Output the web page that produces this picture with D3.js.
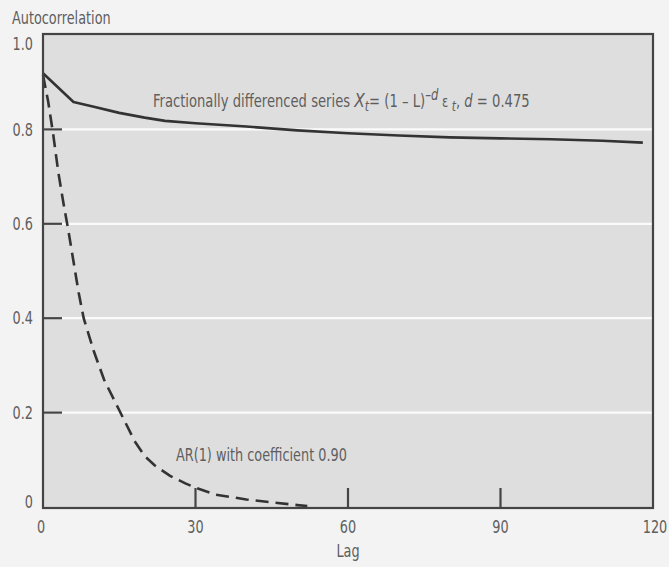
<!DOCTYPE html>
<html lang="en">
<head>
  <meta charset="UTF-8">
  <title>Autocorrelation</title>
  <script src="https://d3js.org/d3.v7.min.js"></script>
  <style>
    body { margin: 0; background: #f3f3f3; }
    text { font-family: "DejaVu Sans Condensed", "Liberation Sans Narrow", sans-serif; fill: #5e5e5e; }
  </style>
</head>
<body>
  <div id="viz"></div>

  <script>
    // Data
    const fracLag = [0, 6, 10, 15, 20, 24, 30, 40, 50, 60, 70, 80, 90, 100, 110, 118];
    const fracAcf = [0.919, 0.858, 0.848, 0.835, 0.825, 0.818, 0.813, 0.806, 0.798, 0.792, 0.787, 0.783, 0.781, 0.779, 0.776, 0.772];

    const arLag = [0, 1, 2, 3, 4, 5, 6, 7, 8, 10, 12, 15, 18, 20, 22, 25, 28, 30, 34, 40, 45, 50, 52];
    const arAcf = [0.915, 0.86, 0.79, 0.71, 0.645, 0.585, 0.52, 0.455, 0.40, 0.33, 0.27, 0.205, 0.14, 0.108, 0.088, 0.066, 0.05, 0.041, 0.026, 0.016, 0.01, 0.004, 0.002];

    const xTicks = [0, 30, 60, 90, 120];
    const yTicks = [0, 0.2, 0.4, 0.6, 0.8, 1.0];

    const W = 669, H = 567;
    const FS = 17, SX = 0.84;   // condensed look: squeeze text horizontally
    const x = d3.scaleLinear().domain([0, 120]).range([43, 653]);
    const y = d3.scaleLinear().domain([0, 1]).range([507, 35]);

    const svg = d3.select('#viz').append('svg')
      .attr('width', W).attr('height', H);

    const label = (sel, px, py, sx = SX) => sel.append('text')
      .attr('transform', `translate(${px},${py}) scale(${sx},1)`)
      .attr('font-size', FS);

    // plot background
    svg.append('rect')
      .attr('x', x(0)).attr('y', y(1))
      .attr('width', x(120) - x(0)).attr('height', y(0) - y(1))
      .attr('fill', '#dedede');

    // white gridlines
    svg.append('g').selectAll('line')
      .data(yTicks.filter(d => d > 0 && d < 1))
      .join('line')
        .attr('x1', x(0)).attr('x2', x(120))
        .attr('y1', d => y(d)).attr('y2', d => y(d))
        .attr('stroke', '#fbfbfb').attr('stroke-width', 2.2);

    // inner tick marks
    svg.append('g').selectAll('line')
      .data(yTicks.filter(d => d > 0 && d < 1))
      .join('line')
        .attr('x1', x(0)).attr('x2', x(0) + 19)
        .attr('y1', d => y(d)).attr('y2', d => y(d))
        .attr('stroke', '#444').attr('stroke-width', 2.2);
    svg.append('g').selectAll('line')
      .data(xTicks.filter(d => d > 0 && d < 120))
      .join('line')
        .attr('x1', d => x(d)).attr('x2', d => x(d))
        .attr('y1', y(0)).attr('y2', y(0) - 19)
        .attr('stroke', '#444').attr('stroke-width', 2.2);

    // lines
    const line = d3.line().x(d => x(d[0])).y(d => y(d[1]));
    svg.append('path')
      .datum(fracLag.map((l, i) => [l, fracAcf[i]]))
      .attr('d', line)
      .attr('fill', 'none').attr('stroke', '#333').attr('stroke-width', 2.6)
      .attr('stroke-linejoin', 'round');
    svg.append('path')
      .datum(arLag.map((l, i) => [l, arAcf[i]]))
      .attr('d', line)
      .attr('fill', 'none').attr('stroke', '#333').attr('stroke-width', 2.6)
      .attr('stroke-dasharray', '13,7');

    // frame
    svg.append('rect')
      .attr('x', x(0)).attr('y', y(1) - 1)
      .attr('width', x(120) - x(0)).attr('height', y(0) - y(1) + 2)
      .attr('fill', 'none').attr('stroke', '#444').attr('stroke-width', 2.2);

    // y tick labels
    yTicks.forEach(d => {
      label(svg, 33, y(d) + (d === 1 ? 9 : d === 0 ? -5 : 0))
        .attr('dy', '0.36em')
        .attr('text-anchor', 'end')
        .text(d === 0 ? '0' : d3.format('.1f')(d));
    });

    // x tick labels
    xTicks.forEach(d => {
      label(svg, x(d) + (d === 0 ? -2 : d === 120 ? 2 : 0), 527)
        .attr('dy', '0.36em')
        .attr('text-anchor', 'middle')
        .text(d);
    });

    // axis titles
    label(svg, 12, 24).text('Autocorrelation');
    label(svg, x(60), 551).attr('dy', '0.36em').attr('text-anchor', 'middle').text('Lag');

    // annotations
    const t1 = label(svg, 153, 107, 0.86);
    t1.append('tspan').text('Fractionally differenced series ');
    t1.append('tspan').attr('font-style', 'italic').attr('font-size', 20).text('X');
    t1.append('tspan').attr('font-style', 'italic').attr('font-size', 14).attr('dy', 4).text('t');
    t1.append('tspan').attr('dy', -4).text('= (1 \u2013 L)');
    t1.append('tspan').attr('font-style', 'italic').attr('font-size', 15).attr('dy', -7).text('\u2013d');
    t1.append('tspan').attr('font-size', 15).attr('dy', 7).text(' \u03b5');
    t1.append('tspan').attr('font-style', 'italic').attr('font-size', 14).attr('dy', 4).text(' t');
    t1.append('tspan').attr('dy', -4).text(', ');
    t1.append('tspan').attr('font-style', 'italic').text('d');
    t1.append('tspan').text(' = 0.475');

    label(svg, 176, 461).text('AR(1) with coefficient 0.90');
  </script>
</body>
</html>
